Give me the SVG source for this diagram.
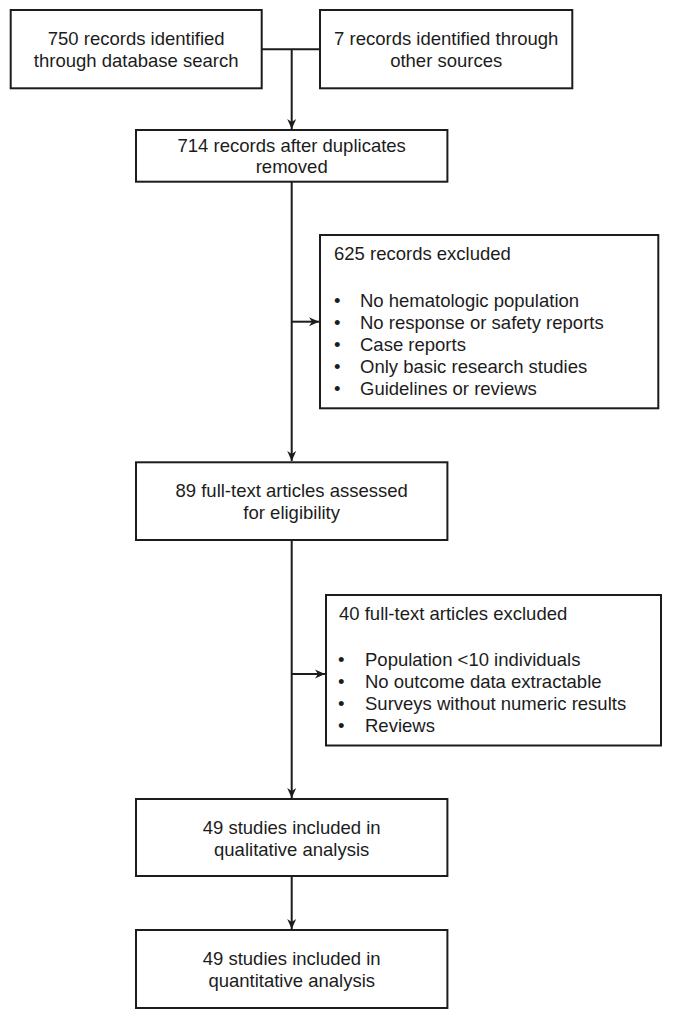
<svg xmlns="http://www.w3.org/2000/svg" width="675" height="1021" viewBox="0 0 675 1021">
<style>
  .box { fill: #ffffff; stroke: #1c1c1c; stroke-width: 2; }
  .t { font-family: "Liberation Sans", Arial, sans-serif; font-size: 18.5px; fill: #1c1c1c; }
  .c { text-anchor: middle; }
  .ln { fill: none; stroke: #1c1c1c; stroke-width: 2; }
</style>
<defs>
  <marker id="arr" markerUnits="userSpaceOnUse" markerWidth="11" markerHeight="10" refX="10" refY="5" orient="auto">
    <path d="M0,0.5 L10,5 L0,9.5 L3,5 Z" fill="#1c1c1c"/>
  </marker>
</defs>
<rect width="675" height="1021" fill="#ffffff"/>

<g id="connectors">
  <path class="ln" d="M261.7,49.3 H320"/>
  <path class="ln" d="M291.7,49.3 V129" marker-end="url(#arr)"/>
  <path class="ln" d="M291.7,182 V461" marker-end="url(#arr)"/>
  <path class="ln" d="M291.7,321.7 H319" marker-end="url(#arr)"/>
  <path class="ln" d="M291.7,540 V798" marker-end="url(#arr)"/>
  <path class="ln" d="M291.7,674 H325" marker-end="url(#arr)"/>
  <path class="ln" d="M291.7,876 V929" marker-end="url(#arr)"/>
</g>

<g id="node-db">
  <rect class="box" x="10.7" y="10" width="251" height="78.3"/>
  <text class="t c" x="136.2" y="45">750 records identified</text>
  <text class="t c" x="136.2" y="67">through database search</text>
</g>

<g id="node-other">
  <rect class="box" x="320" y="10" width="252.3" height="78.3"/>
  <text class="t c" x="446.2" y="45">7 records identified through</text>
  <text class="t c" x="446.2" y="67">other sources</text>
</g>

<g id="node-dedup">
  <rect class="box" x="136" y="130" width="311.4" height="51.7"/>
  <text class="t c" x="291.7" y="151.7">714 records after duplicates</text>
  <text class="t c" x="291.7" y="173.3">removed</text>
</g>

<g id="node-excl1">
  <rect class="box" x="320" y="235" width="338.3" height="173.3"/>
  <text class="t" x="334" y="260">625 records excluded</text>
  <text class="t" x="334" y="306.5">•</text>
  <text class="t" x="360" y="306.5">No hematologic population</text>
  <text class="t" x="334" y="328.5">•</text>
  <text class="t" x="360" y="328.5">No response or safety reports</text>
  <text class="t" x="334" y="350.5">•</text>
  <text class="t" x="360" y="350.5">Case reports</text>
  <text class="t" x="334" y="372.5">•</text>
  <text class="t" x="360" y="372.5">Only basic research studies</text>
  <text class="t" x="334" y="394.5">•</text>
  <text class="t" x="360" y="394.5">Guidelines or reviews</text>
</g>

<g id="node-fulltext">
  <rect class="box" x="136" y="462.3" width="311.4" height="77.7"/>
  <text class="t c" x="291.7" y="497">89 full-text articles assessed</text>
  <text class="t c" x="291.7" y="519">for eligibility</text>
</g>

<g id="node-excl2">
  <rect class="box" x="326" y="595" width="335" height="150.5"/>
  <text class="t" x="339" y="620">40 full-text articles excluded</text>
  <text class="t" x="338" y="666">•</text>
  <text class="t" x="365" y="666">Population &lt;10 individuals</text>
  <text class="t" x="338" y="688">•</text>
  <text class="t" x="365" y="688">No outcome data extractable</text>
  <text class="t" x="338" y="710">•</text>
  <text class="t" x="365" y="710">Surveys without numeric results</text>
  <text class="t" x="338" y="732">•</text>
  <text class="t" x="365" y="732">Reviews</text>
</g>

<g id="node-qual">
  <rect class="box" x="136" y="799" width="311.4" height="77"/>
  <text class="t c" x="291.7" y="834">49 studies included in</text>
  <text class="t c" x="291.7" y="856">qualitative analysis</text>
</g>

<g id="node-quant">
  <rect class="box" x="136" y="930" width="311.4" height="78"/>
  <text class="t c" x="291.7" y="965">49 studies included in</text>
  <text class="t c" x="291.7" y="987">quantitative analysis</text>
</g>
</svg>
